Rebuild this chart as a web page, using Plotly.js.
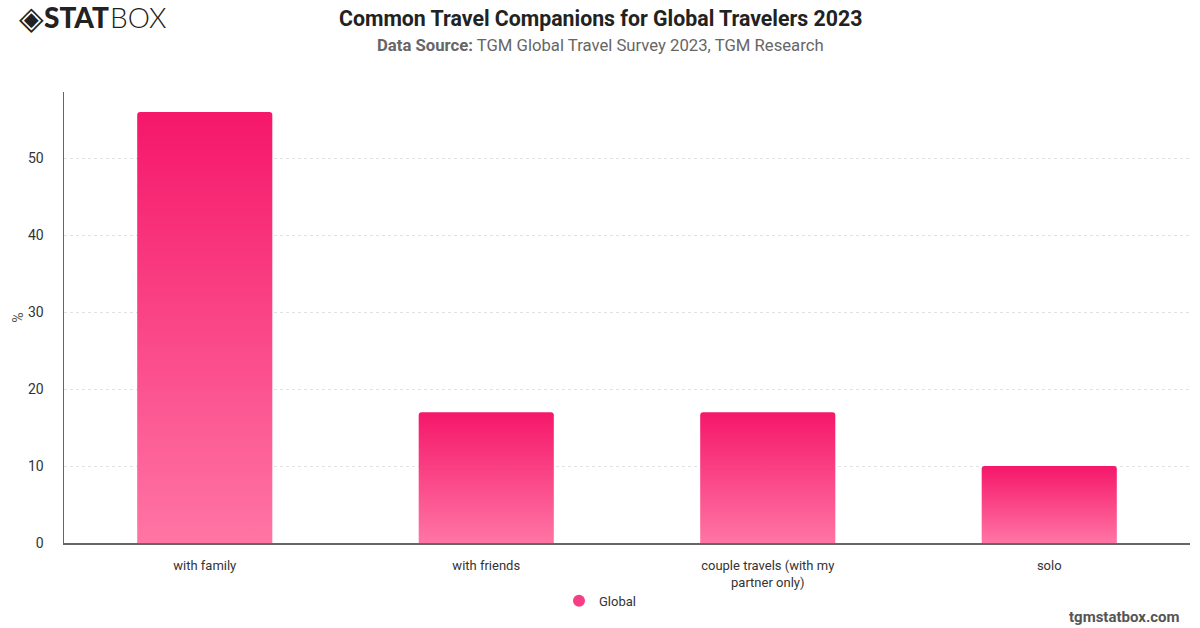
<!DOCTYPE html>
<html>
<head>
<meta charset="utf-8">
<script src="https://cdn.plot.ly/plotly-3.0.1.min.js"></script>
<style>html,body{margin:0;padding:0;background:#fff;}#chart{width:1200px;height:628px;}</style>
</head>
<body>
<div id="chart"></div>
<script>
const categories = ["with family", "with friends", "couple travels (with my<br>partner only)", "solo"];
const globalValues = [56, 17, 17, 10];
const seriesName = "Global";
const yTicks = [0, 10, 20, 30, 40, 50];

const FONT = "Roboto, 'Liberation Sans', Arial, sans-serif";
const CX = (600 - 64) / 1126;

const traces = [
  {
    type: "bar",
    x: categories,
    y: globalValues,
    name: seriesName,
    showlegend: false,
    marker: { color: "#f5186a", line: { width: 0 } },
    hoverinfo: "x+y"
  },
  {
    type: "scatter",
    mode: "markers",
    x: [null],
    y: [null],
    name: seriesName,
    showlegend: true,
    marker: { symbol: "circle", size: 12, color: "#f73e84" }
  }
];

const layout = {
  width: 1200,
  height: 628,
  margin: { l: 64, r: 10, t: 92, b: 85 },
  paper_bgcolor: "#ffffff",
  plot_bgcolor: "#ffffff",
  font: { family: FONT, size: 13, color: "#333333" },
  bargap: 0.52,
  barcornerradius: 3,
  title: { text: "" },
  xaxis: {
    type: "category",
    showline: true,
    linecolor: "#666666",
    linewidth: 1.5,
    showgrid: false,
    ticks: "",
    ticklabelstandoff: 10,
    tickfont: { family: FONT, size: 13, color: "#333333" },
    fixedrange: true
  },
  yaxis: {
    range: [0, 58.6],
    tickvals: yTicks,
    showline: true,
    linecolor: "#666666",
    linewidth: 1.5,
    showgrid: true,
    gridcolor: "#e2e2e2",
    griddash: "dot",
    gridwidth: 1,
    zeroline: false,
    ticks: "",
    ticklabelstandoff: 16,
    tickfont: { family: FONT, size: 14, color: "#333333" },
    title: { text: "%", font: { family: FONT, size: 14, color: "#555555" }, standoff: 1 },
    fixedrange: true
  },
  showlegend: true,
  legend: {
    orientation: "h",
    x: CX,
    xanchor: "center",
    y: -0.095,
    yanchor: "top",
    font: { family: FONT, size: 13, color: "#333333" },
    itemsizing: "constant"
  },
  annotations: [
    {
      text: "<b>Common Travel Companions for Global Travelers 2023</b>",
      xref: "paper", yref: "paper", x: CX, xanchor: "center",
      y: 1, yanchor: "bottom", yshift: 59, showarrow: false,
      font: { family: FONT, size: 21.3, color: "#222222" }
    },
    {
      text: "<b>Data Source:</b> TGM Global Travel Survey 2023, TGM Research",
      xref: "paper", yref: "paper", x: CX, xanchor: "center",
      y: 1, yanchor: "bottom", yshift: 35, showarrow: false,
      font: { family: FONT, size: 16.7, color: "#666666" }
    },
    {
      text: "<b>tgmstatbox.com</b>",
      xref: "paper", yref: "paper", x: 1, xanchor: "right", xshift: -8,
      y: 0, yanchor: "top", yshift: -63, showarrow: false,
      font: { family: FONT, size: 15, color: "#555555" }
    },
    {
      text: "◈",
      xref: "paper", yref: "paper", x: 0, xanchor: "left", xshift: -47,
      y: 1, yanchor: "bottom", yshift: 53, showarrow: false,
      font: { family: "DejaVu Sans", size: 32, color: "#222222" }
    },
    {
      text: "STAT",
      xref: "paper", yref: "paper", x: 0, xanchor: "left", xshift: -22,
      y: 1, yanchor: "bottom", yshift: 56, showarrow: false,
      font: { family: "Lato, " + FONT, size: 28, weight: 900, color: "#222222" }
    },
    {
      text: "BOX",
      xref: "paper", yref: "paper", x: 0, xanchor: "left", xshift: 44,
      y: 1, yanchor: "bottom", yshift: 56, showarrow: false,
      font: { family: "Lato, " + FONT, size: 28, weight: 300, color: "#222222" }
    }
  ]
};

Plotly.newPlot("chart", traces, layout, { displayModeBar: false, staticPlot: true }).then(function (gd) {
  const svg = gd.querySelector("svg.main-svg");
  const ns = "http://www.w3.org/2000/svg";
  let defs = svg.querySelector("defs");
  if (!defs) { defs = document.createElementNS(ns, "defs"); svg.insertBefore(defs, svg.firstChild); }
  const grad = document.createElementNS(ns, "linearGradient");
  grad.setAttribute("id", "barGrad");
  grad.setAttribute("x1", "0"); grad.setAttribute("y1", "0");
  grad.setAttribute("x2", "0"); grad.setAttribute("y2", "1");
  const s1 = document.createElementNS(ns, "stop");
  s1.setAttribute("offset", "0"); s1.setAttribute("stop-color", "#f5176a");
  const s2 = document.createElementNS(ns, "stop");
  s2.setAttribute("offset", "1"); s2.setAttribute("stop-color", "#ff75a4");
  grad.appendChild(s1); grad.appendChild(s2);
  defs.appendChild(grad);
  gd.querySelectorAll(".barlayer .point path").forEach(function (p) {
    p.style.fill = "url(#barGrad)";
  });
});
</script>
</body>
</html>
